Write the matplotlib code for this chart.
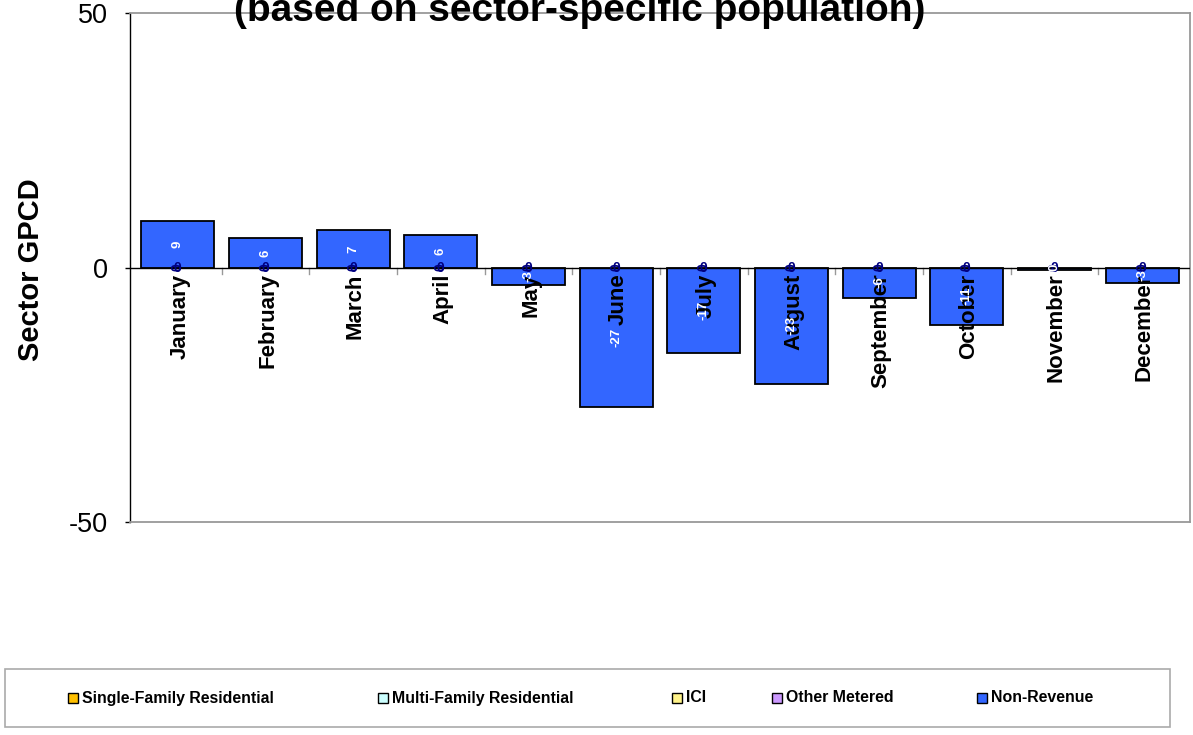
import matplotlib
matplotlib.use("Agg")
import matplotlib.pyplot as plt
from matplotlib.patches import Rectangle
import numpy as np

plt.rcParams['font.family'] = ['Liberation Sans', 'DejaVu Sans']

months = ["January", "February", "March", "April", "May", "June",
          "July", "August", "September", "October", "November", "December"]
non_revenue = [9.1, 5.7, 7.3, 6.3, -3.4, -27.4, -16.7, -22.9, -5.9, -11.2, -0.4, -3.1]
other_sectors = [0] * 12

legend_names = ["Single-Family Residential", "Multi-Family Residential", "ICI",
                "Other Metered", "Non-Revenue"]
legend_colors = ["#FFC000", "#CCFFFF", "#FFF38A", "#CC99FF", "#3366FF"]

title = "(based on sector-specific population)"
y_label = "Sector GPCD"

W, H = 1193, 735
fig = plt.figure(figsize=(W / 100, H / 100), dpi=100)
ax = fig.add_axes([130 / W, 1 - 522 / H, 1060 / W, 509 / H])

x = np.arange(len(months))
ax.bar(x, non_revenue, width=0.833, color="#3366FF", edgecolor="black",
       linewidth=1.3, zorder=2)

ax.set_xlim(-0.546, len(months) - 0.454)
ax.set_ylim(-50, 50)
ax.set_yticks([-50, 0, 50])
ax.set_yticklabels(["-50", "0", "50"], fontsize=19.5)
ax.tick_params(axis="y", length=3.6, width=1, pad=12)
ax.set_xticks([])

# category axis along zero, with boundary tick marks
ax.axhline(0, color="black", linewidth=1.0, zorder=3)
for b in np.arange(0.5, len(months) - 0.5, 1.0):
    ax.plot([b, b], [-1.2, 0], color="#999999", lw=1, zorder=1, clip_on=False)

# month labels below the zero line
for i, m in enumerate(months):
    ax.annotate(m, (i, 0), xytext=(2, -6), textcoords="offset pixels",
                rotation=90, ha="center", va="top", fontsize=16,
                fontweight="bold", color="black", zorder=4)

# zero-valued labels of the other sectors, stacked at the axis
for i, v in enumerate(other_sectors):
    for rot in (0, 90):
        ax.text(i, v, "0", rotation=rot, ha="center", va="center",
                fontsize=10, fontweight="bold", color="#000080", zorder=5)

# value labels inside the bars
for i, v in enumerate(non_revenue):
    ax.text(i, v / 2 if abs(v) > 1 else 0, f"{v:.0f}".replace("-0", "0"),
            rotation=90, ha="center", va="center", fontsize=9.5,
            fontweight="bold", color="white", zorder=6)

for side in ["top", "right", "bottom"]:
    ax.spines[side].set_color("#999999")
    ax.spines[side].set_linewidth(1.3)
ax.spines["left"].set_color("black")
ax.spines["left"].set_linewidth(1.0)

fig.text(31 / W, 1 - 270 / H, y_label, rotation=90, ha="center", va="center",
         fontsize=21, fontweight="bold")

fig.text(580 / W, 1 - 21 / H, title, ha="center", va="baseline",
         fontsize=28, fontweight="bold")

# legend box
fig.patches.append(Rectangle((5 / W, 1 - 727 / H), 1165 / W, 58 / H,
                             transform=fig.transFigure, facecolor="white",
                             edgecolor="#AAAAAA", linewidth=1.2))
entry_x = [68, 378, 672, 772, 977]
for ex, name, col in zip(entry_x, legend_names, legend_colors):
    fig.patches.append(Rectangle((ex / W, 1 - 703 / H), 10 / W, 10 / H,
                                 transform=fig.transFigure, facecolor=col,
                                 edgecolor="black", linewidth=1.0))
    fig.text((ex + 14) / W, 1 - 698 / H, name, ha="left", va="center",
             fontsize=11.4, fontweight="bold")

fig.savefig("out.png", dpi=100)
